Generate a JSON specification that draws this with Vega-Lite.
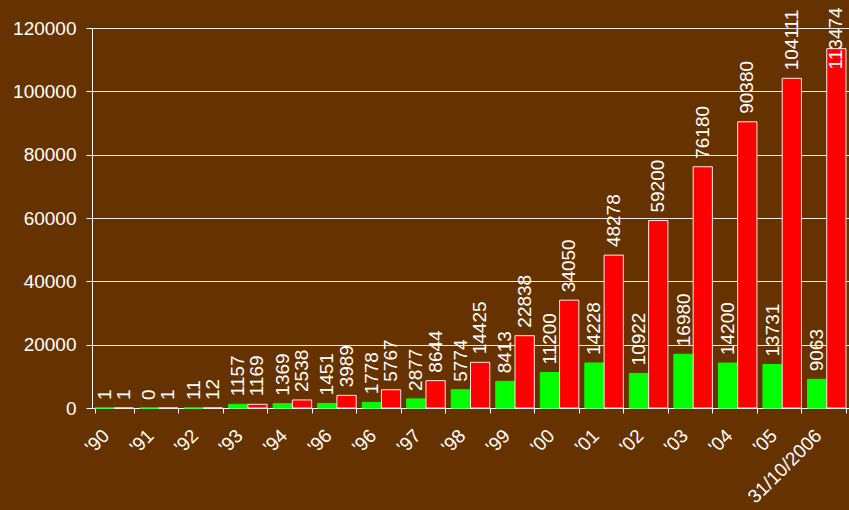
{
  "$schema": "https://vega.github.io/schema/vega-lite/v6.json",
  "width": 757,
  "height": 380,
  "autosize": {"type": "none"},
  "padding": {"left": 92, "top": 28, "right": 0, "bottom": 102},
  "background": "#663300",
  "config": {
    "view": {"stroke": null},
    "font": "Liberation Sans"
  },
  "data": {
    "values": [
      {"year": "'90", "series": "yearly", "value": 1},
      {"year": "'90", "series": "cumulative", "value": 1},
      {"year": "'91", "series": "yearly", "value": 0},
      {"year": "'91", "series": "cumulative", "value": 1},
      {"year": "'92", "series": "yearly", "value": 11},
      {"year": "'92", "series": "cumulative", "value": 12},
      {"year": "'93", "series": "yearly", "value": 1157},
      {"year": "'93", "series": "cumulative", "value": 1169},
      {"year": "'94", "series": "yearly", "value": 1369},
      {"year": "'94", "series": "cumulative", "value": 2538},
      {"year": "\u200b'96", "series": "yearly", "value": 1451},
      {"year": "\u200b'96", "series": "cumulative", "value": 3989},
      {"year": "'96", "series": "yearly", "value": 1778},
      {"year": "'96", "series": "cumulative", "value": 5767},
      {"year": "'97", "series": "yearly", "value": 2877},
      {"year": "'97", "series": "cumulative", "value": 8644},
      {"year": "'98", "series": "yearly", "value": 5774},
      {"year": "'98", "series": "cumulative", "value": 14425},
      {"year": "'99", "series": "yearly", "value": 8413},
      {"year": "'99", "series": "cumulative", "value": 22838},
      {"year": "'00", "series": "yearly", "value": 11200},
      {"year": "'00", "series": "cumulative", "value": 34050},
      {"year": "'01", "series": "yearly", "value": 14228},
      {"year": "'01", "series": "cumulative", "value": 48278},
      {"year": "'02", "series": "yearly", "value": 10922},
      {"year": "'02", "series": "cumulative", "value": 59200},
      {"year": "'03", "series": "yearly", "value": 16980},
      {"year": "'03", "series": "cumulative", "value": 76180},
      {"year": "'04", "series": "yearly", "value": 14200},
      {"year": "'04", "series": "cumulative", "value": 90380},
      {"year": "'05", "series": "yearly", "value": 13731},
      {"year": "'05", "series": "cumulative", "value": 104111},
      {"year": "31/10/2006", "series": "yearly", "value": 9063},
      {"year": "31/10/2006", "series": "cumulative", "value": 113474}
    ]
  },
  "encoding": {
    "x": {
      "field": "year",
      "type": "nominal",
      "sort": null,
      "scale": {"paddingInner": 0.135, "paddingOuter": 0.0675},
      "axis": {
        "title": null,
        "labelAngle": -45,
        "labelFontSize": 19,
        "labelColor": "#FFFFFF",
        "labelFont": "Liberation Sans",
        "labelPadding": 13,
        "labelOffset": -15,
        "tickBand": "extent",
        "tickSize": 5,
        "tickColor": "#FFFFFF",
        "domainColor": "#FFFFFF",
        "grid": false
      }
    },
    "xOffset": {
      "field": "series",
      "type": "nominal",
      "sort": ["yearly", "cumulative"],
      "scale": {"domain": ["yearly", "cumulative"], "paddingInner": 0, "paddingOuter": 0}
    }
  },
  "layer": [
    {
      "mark": {"type": "bar", "strokeWidth": 1},
      "encoding": {
        "y": {
          "field": "value",
          "type": "quantitative",
          "scale": {"domain": [0, 120000], "nice": false},
          "axis": {
            "title": null,
            "values": [0, 20000, 40000, 60000, 80000, 100000, 120000],
            "format": "d",
            "labelFontSize": 19,
            "labelColor": "#FFFFFF",
            "labelFont": "Liberation Sans",
            "labelPadding": 10,
            "tickSize": 6,
            "tickColor": "#FFFFFF",
            "domainColor": "#FFFFFF",
            "gridColor": "#FFFFFF",
            "gridOpacity": 0.9
          }
        },
        "color": {
          "field": "series",
          "type": "nominal",
          "scale": {"domain": ["yearly", "cumulative"], "range": ["#00FF00", "#FF0000"]},
          "legend": null
        },
        "stroke": {
          "field": "series",
          "type": "nominal",
          "scale": {"domain": ["yearly", "cumulative"], "range": ["#00FF00", "#FFE6E6"]},
          "legend": null
        }
      }
    },
    {
      "transform": [{"calculate": "min(datum.value, 104400)", "as": "labelPos"}],
      "mark": {
        "type": "text",
        "angle": 270,
        "align": "left",
        "baseline": "middle",
        "dx": 8,
        "font": "Liberation Sans",
        "fontSize": 19,
        "fill": "#FFFFFF"
      },
      "encoding": {
        "y": {"field": "labelPos", "type": "quantitative"},
        "text": {"field": "value", "type": "quantitative", "format": "d"}
      }
    }
  ]
}
